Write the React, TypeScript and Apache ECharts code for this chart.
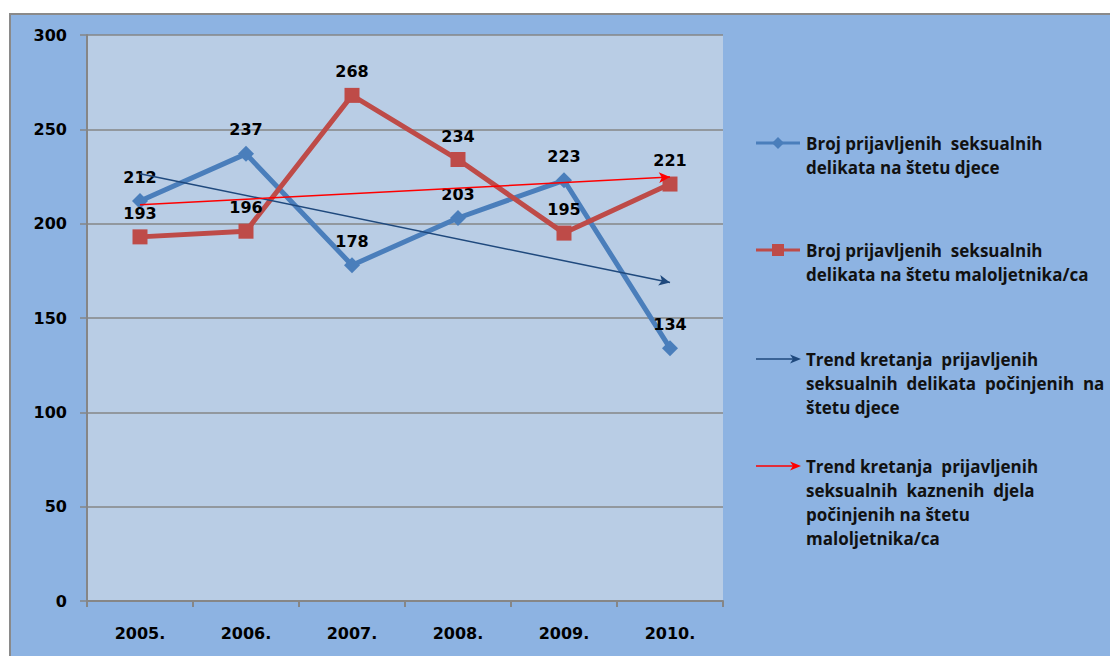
import React, { useEffect, useRef } from "react";
import * as echarts from "echarts";

const categories = ["2005.", "2006.", "2007.", "2008.", "2009.", "2010."];
const djeceValues = [212, 237, 178, 203, 223, 134];
const maloljetniciValues = [193, 196, 268, 234, 195, 221];
// trend line end points (2005. and 2010.)
const djeceTrend = [226.5, 168.8];
const maloljetniciTrend = [210, 224.7];

const seriesNames = [
  "Broj prijavljenih  seksualnih\ndelikata na štetu djece",
  "Broj prijavljenih  seksualnih\ndelikata na štetu maloljetnika/ca",
  "Trend kretanja  prijavljenih\nseksualnih  delikata  počinjenih  na\nštetu djece",
  "Trend kretanja  prijavljenih\nseksualnih  kaznenih  djela\npočinjenih na štetu\nmaloljetnika/ca",
];

const BLUE = "#4a7ebb";
const RED = "#be4b48";
const NAVY = "#1f497d";
const TRED = "#ff0000";
const GRID = "#868686";
const NUM_FONT = "DejaVu Sans";
const TXT_FONT = "Open Sans";

function legendGraphics() {
  const tops = [143, 250, 359, 466];
  const lx1 = 756;
  const lx2 = 800;
  const tx = 806;
  const els: any[] = [];
  tops.forEach((y, i) => {
    if (i === 0) {
      els.push({ type: "line", shape: { x1: lx1, y1: y, x2: lx2, y2: y }, style: { stroke: BLUE, lineWidth: 3 } });
      els.push({ type: "polygon", shape: { points: [[778, y - 6], [784, y], [778, y + 6], [772, y]] }, style: { fill: BLUE } });
    } else if (i === 1) {
      els.push({ type: "line", shape: { x1: lx1, y1: y, x2: lx2, y2: y }, style: { stroke: RED, lineWidth: 3 } });
      els.push({ type: "rect", shape: { x: 772, y: y - 6, width: 12, height: 12 }, style: { fill: RED } });
    } else {
      const c = i === 2 ? NAVY : TRED;
      els.push({ type: "line", shape: { x1: lx1, y1: y, x2: lx2 - 4, y2: y }, style: { stroke: c, lineWidth: 1.5 } });
      els.push({ type: "polygon", shape: { points: [[790, y - 4.5], [801, y], [790, y + 4.5], [793, y]] }, style: { fill: c } });
    }
    els.push({
      type: "text",
      x: tx,
      y: y - 12,
      style: {
        text: seriesNames[i],
        font: `bold 17px "${TXT_FONT}"`,
        fill: "#111111",
        lineHeight: 24,
        verticalAlign: "top",
        align: "left",
      },
    });
  });
  return els;
}

export default function App() {
  const ref = useRef<HTMLDivElement>(null);
  useEffect(() => {
    if (!ref.current) return;
    const chart = echarts.init(ref.current, undefined, { renderer: "svg" });
    const labelStyle = {
      show: true,
      position: "top",
      distance: 8,
      fontFamily: NUM_FONT,
      fontWeight: "bold",
      fontSize: 16,
      color: "#000000",
    };
    chart.setOption({
      animation: false,
      backgroundColor: "transparent",
      grid: {
        left: 87,
        top: 35,
        right: 387,
        bottom: 55,
        show: true,
        backgroundColor: "#b9cde5",
        borderWidth: 0,
      },
      xAxis: {
        type: "category",
        data: categories,
        boundaryGap: true,
        axisLine: { show: true, lineStyle: { color: GRID, width: 2 } },
        axisTick: { show: true, length: 6, lineStyle: { color: GRID, width: 2 } },
        axisLabel: { margin: 24, fontFamily: NUM_FONT, fontWeight: "bold", fontSize: 16, color: "#000" },
        splitLine: { show: false },
      },
      yAxis: {
        type: "value",
        min: 0,
        max: 300,
        interval: 50,
        axisLine: { show: true, lineStyle: { color: GRID, width: 2 } },
        axisTick: { show: true, length: 7, lineStyle: { color: GRID, width: 1.5 } },
        axisLabel: { margin: 20, fontFamily: NUM_FONT, fontWeight: "bold", fontSize: 16, color: "#000" },
        splitLine: { show: true, lineStyle: { color: GRID, width: 1.5 } },
      },
      series: [
        {
          name: seriesNames[0],
          type: "line",
          data: djeceValues,
          symbol: "diamond",
          symbolSize: 16,
          itemStyle: { color: BLUE },
          lineStyle: { color: BLUE, width: 5 },
          label: labelStyle,
          z: 3,
        },
        {
          name: seriesNames[1],
          type: "line",
          data: maloljetniciValues,
          symbol: "rect",
          symbolSize: 15,
          itemStyle: { color: RED },
          lineStyle: { color: RED, width: 5 },
          label: labelStyle,
          z: 4,
        },
        {
          name: seriesNames[2],
          type: "line",
          data: [],
          z: 5,
          markLine: {
            silent: true,
            symbol: ["none", "arrow"],
            symbolSize: [8, 11],
            label: { show: false },
            lineStyle: { color: NAVY, width: 1.5, type: "solid" },
            data: [[{ coord: [categories[0], djeceTrend[0]] }, { coord: [categories[5], djeceTrend[1]] }]],
          },
        },
        {
          name: seriesNames[3],
          type: "line",
          data: [],
          z: 5,
          markLine: {
            silent: true,
            symbol: ["none", "arrow"],
            symbolSize: [8, 11],
            label: { show: false },
            lineStyle: { color: TRED, width: 1.5, type: "solid" },
            data: [[{ coord: [categories[0], maloljetniciTrend[0]] }, { coord: [categories[5], maloljetniciTrend[1]] }]],
          },
        },
      ],
      graphic: legendGraphics(),
    });
    return () => chart.dispose();
  }, []);

  return (
    <div style={{ position: "fixed", left: 0, top: 0, width: 1110, height: 656, background: "#ffffff", overflow: "hidden" }}>
      <div
        style={{
          position: "absolute",
          left: 9,
          top: 13,
          width: 1200,
          height: 700,
          background: "#8db3e2",
          borderTop: "2px solid #8a8a8a",
          borderLeft: "2px solid #8a8a8a",
        }}
      />
      <div ref={ref} style={{ position: "absolute", left: 0, top: 0, width: 1110, height: 656 }} />
    </div>
  );
}
